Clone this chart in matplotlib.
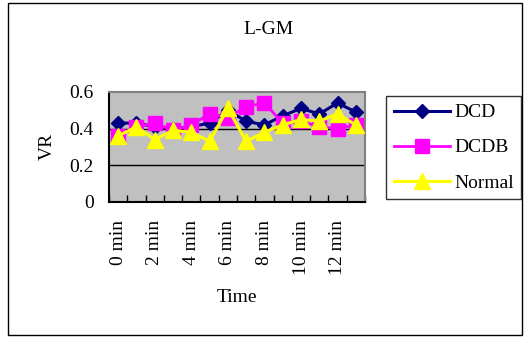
import matplotlib
matplotlib.use("Agg")
import matplotlib.pyplot as plt
from matplotlib.patches import Rectangle

plt.rcParams['font.family'] = ['Liberation Serif', 'DejaVu Serif']
plt.rcParams['font.size'] = 14

# VR per minute for each group
minutes = [f'{m} min' for m in range(14)]
dcd = [0.43, 0.43, 0.41, 0.40, 0.41, 0.43, 0.50, 0.44, 0.42, 0.47, 0.51, 0.48, 0.54, 0.49]
dcdb = [0.36, 0.41, 0.43, 0.39, 0.42, 0.48, 0.46, 0.52, 0.54, 0.43, 0.44, 0.41, 0.40, 0.42]
normal = [0.36, 0.41, 0.34, 0.39, 0.38, 0.33, 0.51, 0.33, 0.38, 0.42, 0.45, 0.44, 0.48, 0.42]

x = list(range(len(minutes)))

fig = plt.figure(figsize=(5.26, 3.38), dpi=100)
fig.patch.set_facecolor('white')

# outer chart border
fig.add_artist(Rectangle((8 / 526, 3 / 338), 514 / 526, 332 / 338,
                         transform=fig.transFigure, fill=False,
                         edgecolor='black', linewidth=1.0))

ax = fig.add_axes([109 / 526, 1 - 201.7 / 338, 256 / 526, 109.7 / 338])
ax.set_facecolor('#C0C0C0')

ax.plot(x, dcd, color='#000080', marker='D', markersize=7.5, linewidth=2.2,
        label='DCD', zorder=3)
ax.plot(x, dcdb, color='#FF00FF', marker='s', markersize=9.5, linewidth=2.0,
        label='DCDB', zorder=4)
ax.plot(x, normal, color='#FFFF00', marker='^', markersize=12, linewidth=2.2,
        label='Normal', zorder=5)

ax.set_xlim(-0.5, len(minutes) - 0.5)
ax.set_ylim(0, 0.6)
ax.set_yticks([0, 0.2, 0.4, 0.6], ['0', '0.2', '0.4', '0.6'])
ax.tick_params(axis='y', length=0, pad=11)

# every other category labelled, tick marks on the category boundaries
ax.set_xticks(x[::2], minutes[::2], rotation=90)
ax.tick_params(axis='x', which='major', length=0, pad=13)
ax.set_xticks([i - 0.5 for i in range(len(minutes) + 1)], minor=True)
ax.tick_params(axis='x', which='minor', direction='in', length=5, width=1,
               color='black')

for v in (0.2, 0.4):
    ax.axhline(v, color='black', linewidth=1.0, zorder=1)

ax.spines['left'].set_color('black')
ax.spines['bottom'].set_color('black')
ax.spines['top'].set_color('#808080')
ax.spines['right'].set_color('#808080')
for s in ax.spines.values():
    s.set_linewidth(1.5)

ax.set_ylabel('VR', labelpad=10)
ax.set_xlabel('Time', labelpad=10)
fig.text(269 / 526, 1 - 29 / 338, 'L-GM', ha='center', va='center')

leg = fig.legend(loc='upper left', bbox_to_anchor=(386 / 526, 1 - 96 / 338),
                 frameon=True, fancybox=False, edgecolor='black',
                 handlelength=2.9, handletextpad=0.2, labelspacing=0.9,
                 borderpad=0.4, borderaxespad=0)
leg.get_frame().set_linewidth(1.0)

fig.savefig('out.png', dpi=100)
